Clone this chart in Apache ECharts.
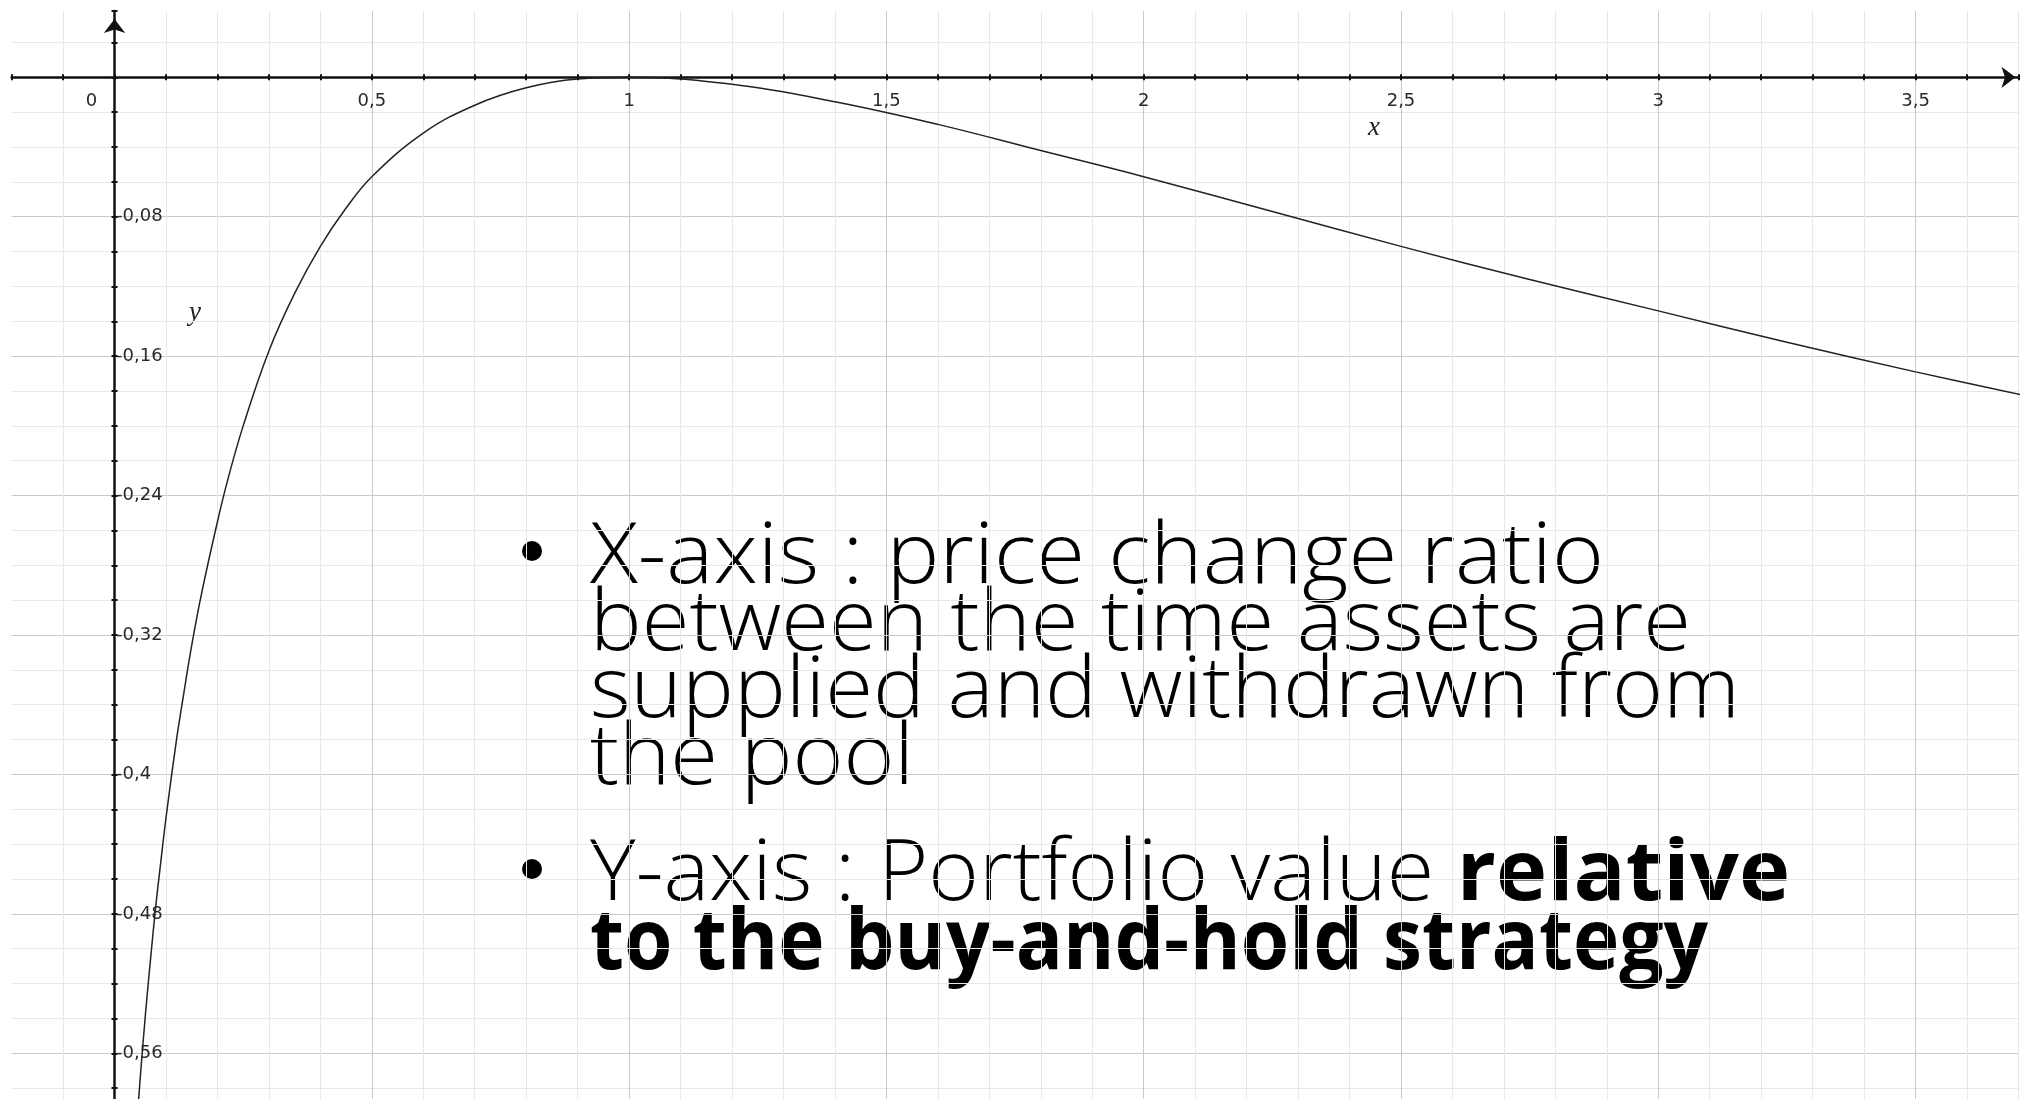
<!DOCTYPE html>
<html>
<head>
<meta charset="utf-8">
<title>Impermanent loss curve</title>
<script src="https://cdn.jsdelivr.net/npm/echarts@6.0.0/dist/echarts.min.js"></script>
<style>
  html, body { margin: 0; padding: 0; background: #fff; }
  #chart { width: 2024px; height: 1099px; }
</style>
</head>
<body>
<div id="chart"></div>
<script>
// price ratio (x) and value relative to holding (y)
const ratio = [0.03, 0.035, 0.04, 0.045, 0.05, 0.06, 0.07, 0.08, 0.09, 0.1,
  0.12, 0.13, 0.15, 0.17, 0.2, 0.22, 0.25, 0.3, 0.35, 0.4, 0.45, 0.5,
  0.6, 0.7, 0.8, 0.9, 1, 1.2, 1.4, 1.6, 1.8, 2, 2.25, 2.5, 2.75, 3, 3.25, 3.5, 3.75]
const relValue = [-0.664, -0.639, -0.615, -0.594, -0.574, -0.538, -0.506, -0.476, -0.45, -0.425,
  -0.381, -0.362, -0.326, -0.295, -0.255, -0.231, -0.2, -0.157, -0.124, -0.097, -0.075, -0.057,
  -0.032, -0.016, -0.006, -0.001, 0, -0.004, -0.014, -0.027, -0.042, -0.057, -0.077, -0.097, -0.116, -0.134, -0.152, -0.169, -0.185]

// labelled ticks
const xTickLabels = [0, 0.5, 1, 1.5, 2, 2.5, 3, 3.5]
const yTickLabels = [-0.08, -0.16, -0.24, -0.32, -0.4, -0.48, -0.56]

// note text (bold parts marked with {b|...})
const noteLines = [
  'X-axis : price change ratio',
  'between the time assets are',
  'supplied and withdrawn from',
  'the pool',
  'Y-axis : Portfolio value {b|relative}',
  '{b|to the buy-and-hold strategy}'
]

const chart = echarts.init(document.getElementById('chart'))

const MINOR = '#e8e8e8'
const MAJOR = '#c9c9c9'
const AXIS = '#111'
const LABEL_FONT = 'DejaVu Sans'
const LABEL_SIZE = 18

// axis ranges (min is a multiple of the interval)
const xMin = -0.2, xMax = 3.7, xStep = 0.1
const yMin = -0.6, yMax = 0.038, yStep = 0.02

// plot box, the axes are moved onto the zero lines with offset
const gridL = 11.6, gridR = 5.5, gridT = 11.1, gridB = -24
const plotW = 2024 - gridL - gridR
const plotH = 1099 - gridT - gridB
const xAxisOffset = -((0 - yMin) / (yMax - yMin) * plotH)
const yAxisOffset = -((0 - xMin) / (xMax - xMin) * plotW)

function has(list, v) {
  return list.some(function (t) { return Math.abs(t - v) < 1e-6 })
}
function comma(v) {
  return String(v).replace('.', ',')
}

// text layout of the note block
const noteFont = '"Open Sans"'
const noteSize = 84
const noteX = 590
const noteBase = [583, 650, 717, 784, 900, 969]
const noteEnd = [1604, 1691, 1740, 914, 1790, 1708]

const ctx = document.createElement('canvas').getContext('2d')
function measure(line) {
  let w = 0
  const re = /\{b\|([^}]*)\}|([^{]+)/g
  let m
  while ((m = re.exec(line))) {
    if (m[1] != null) {
      ctx.font = '700 ' + noteSize + 'px ' + noteFont
      w += ctx.measureText(m[1]).width
    } else {
      ctx.font = '300 ' + noteSize + 'px ' + noteFont
      w += ctx.measureText(m[2]).width
    }
  }
  return w
}
// distance from the alphabetic baseline up to the 'middle' baseline
ctx.font = '300 ' + noteSize + 'px ' + noteFont
ctx.textBaseline = 'alphabetic'
const capA = ctx.measureText('X').actualBoundingBoxAscent
ctx.textBaseline = 'middle'
const capM = ctx.measureText('X').actualBoundingBoxAscent
const midShift = capA - capM

const graphics = []
noteLines.forEach(function (line, i) {
  const sx = (noteEnd[i] - noteX) / measure(line)
  graphics.push({
    type: 'text',
    x: noteX,
    y: noteBase[i] - midShift,
    scaleX: sx,
    style: {
      text: line,
      fontFamily: 'Open Sans',
      fontSize: noteSize,
      fontWeight: 300,
      fill: '#000',
      align: 'left',
      verticalAlign: 'middle',
      rich: {
        b: { fontFamily: 'Open Sans', fontSize: noteSize, fontWeight: 700, fill: '#000' }
      }
    }
  })
})
graphics.push({ type: 'circle', shape: { cx: 532, cy: 551, r: 10 }, style: { fill: '#000' } })
graphics.push({ type: 'circle', shape: { cx: 532, cy: 869, r: 10 }, style: { fill: '#000' } })
graphics.push({
  type: 'text', x: 1374, y: 128,
  style: { text: 'x', font: 'italic 27px "Liberation Serif"', fill: '#222', align: 'center', verticalAlign: 'middle' }
})
graphics.push({
  type: 'text', x: 195, y: 313,
  style: { text: 'y', font: 'italic 27px "Liberation Serif"', fill: '#222', align: 'center', verticalAlign: 'middle' }
})

const xBase = { type: 'value', min: xMin, max: xMax, interval: xStep, position: 'bottom', offset: xAxisOffset }
const yBase = { type: 'value', min: yMin, max: yMax, interval: yStep, position: 'left', offset: yAxisOffset }

const option = {
  backgroundColor: '#fff',
  animation: false,
  grid: {
    left: gridL, right: gridR, top: gridT, bottom: gridB,
    containLabel: false, outerBoundsMode: 'none'
  },
  xAxis: [
    Object.assign({}, xBase, {
      axisLine: {
        onZero: false,
        symbol: ['none', 'arrow'],
        symbolSize: [16, 14],
        symbolOffset: [0, -3],
        lineStyle: { color: AXIS, width: 2.5 }
      },
      axisTick: { show: true, inside: false, length: 3, lineStyle: { color: AXIS, width: 2 } },
      axisLabel: {
        margin: 15,
        color: '#2a2a2a',
        fontFamily: LABEL_FONT,
        fontSize: LABEL_SIZE,
        interval: 0,
        hideOverlap: false,
        formatter: function (v) {
          if (!has(xTickLabels, v)) return ''
          if (Math.abs(v) < 1e-9) return '{o|0}'
          return comma(v)
        },
        rich: {
          o: { fontFamily: LABEL_FONT, fontSize: LABEL_SIZE, color: '#2a2a2a', padding: [0, 46, 0, 0] }
        }
      },
      splitLine: {
        show: true, showMinLine: false, showMaxLine: true,
        lineStyle: { color: [MINOR, MAJOR, MINOR, MINOR, MINOR], width: 1 }
      }
    }),
    Object.assign({}, xBase, {
      axisLine: { show: false, onZero: false },
      axisTick: { show: true, inside: true, length: 3, lineStyle: { color: AXIS, width: 2 } },
      axisLabel: { show: false },
      splitLine: { show: false }
    })
  ],
  yAxis: [
    Object.assign({}, yBase, {
      axisLine: {
        onZero: false,
        symbol: ['none', 'arrow'],
        symbolSize: [16, 14],
        symbolOffset: [0, -8],
        lineStyle: { color: AXIS, width: 2.5 }
      },
      axisTick: { show: true, inside: false, length: 3, lineStyle: { color: AXIS, width: 2 } },
      axisLabel: {
        inside: true,
        margin: 1.5,
        color: '#2a2a2a',
        fontFamily: LABEL_FONT,
        fontSize: LABEL_SIZE,
        formatter: function (v) {
          if (!has(yTickLabels, v)) return ''
          return '-' + comma(Math.abs(v))
        }
      },
      splitLine: {
        show: true, showMinLine: false, showMaxLine: false,
        lineStyle: { color: [MINOR, MAJOR, MINOR, MINOR], width: 1 }
      }
    }),
    Object.assign({}, yBase, {
      axisLine: { show: false, onZero: false },
      axisTick: { show: true, inside: true, length: 3, lineStyle: { color: AXIS, width: 2 } },
      axisLabel: { show: false },
      splitLine: { show: false }
    })
  ],
  series: [
    {
      type: 'line',
      data: ratio.map(function (r, i) { return [r, relValue[i]] }),
      smooth: 0.4,
      showSymbol: false,
      clip: true,
      lineStyle: { color: '#222', width: 1.5 },
      z: 5
    }
  ],
  graphic: graphics
}

chart.setOption(option)
</script>
</body>
</html>
